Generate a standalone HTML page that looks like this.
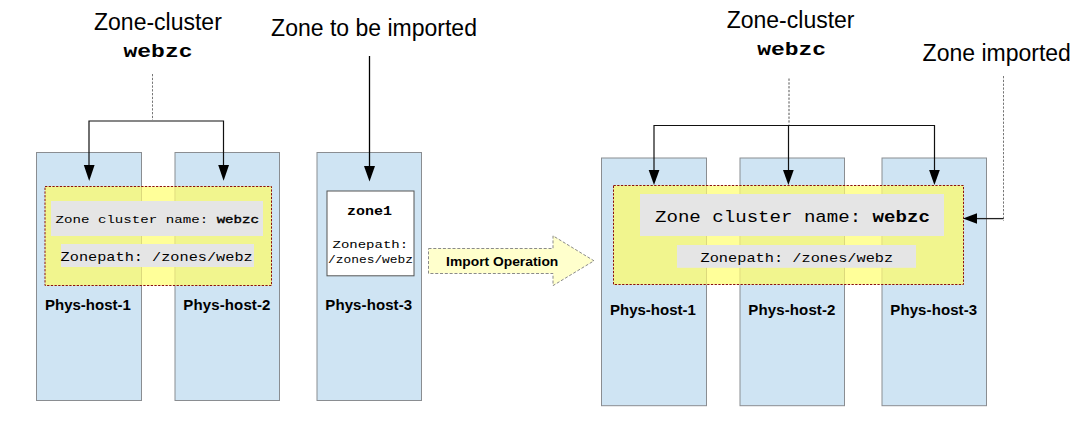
<!DOCTYPE html>
<html><head><meta charset="utf-8">
<style>
html,body{margin:0;padding:0;background:#fff;}
body{width:1078px;height:421px;overflow:hidden;position:relative;}
svg{position:absolute;left:0;top:0;}
.s{font-family:"Liberation Sans",sans-serif;}
.m{font-family:"Liberation Mono",monospace;}
</style></head>
<body>
<svg width="1078" height="421" viewBox="0 0 1078 421">
  <!-- ===== LEFT GROUP ===== -->
  <g fill="#cfe4f3" stroke="#8a8d91" stroke-width="1">
    <rect x="36.5" y="152.5" width="105" height="248"/>
    <rect x="175" y="152.5" width="104.5" height="248"/>
    <rect x="317" y="152.5" width="104.5" height="248"/>
  </g>
  <!-- yellow cluster box -->
  <rect x="45" y="186.5" width="226.5" height="99" fill="#ffff99"/>
  <rect x="45" y="186.5" width="96" height="99" fill="#f1f58e"/>
  <rect x="175.5" y="186.5" width="96" height="99" fill="#f1f58e"/>
  <line x1="141.5" y1="187" x2="141.5" y2="285" stroke="#dcd97c" stroke-width="1"/>
  <line x1="175" y1="187" x2="175" y2="285" stroke="#dcd97c" stroke-width="1"/>
  <rect x="45" y="186.5" width="226.5" height="99" fill="none" stroke="#8b1010" stroke-width="1" stroke-dasharray="2.3 1.4"/>
  <!-- labels -->
  <rect x="51" y="201" width="212" height="35" fill="#e5e5e5"/>
  <rect x="61" y="244" width="193" height="23" fill="#e5e5e5"/>
  <!-- zone1 box -->
  <rect x="327" y="191" width="87" height="84.8" fill="#fff" stroke="#555" stroke-width="1"/>

  <!-- bracket lines -->
  <path d="M89 166 V121 H223.5 V166" fill="none" stroke="#111" stroke-width="1.2"/>
  <line x1="152.5" y1="74" x2="152.5" y2="120" stroke="#777" stroke-width="1" stroke-dasharray="2.3 1.5"/>
  <line x1="369.5" y1="56" x2="369.5" y2="167" stroke="#000" stroke-width="1.3"/>
  <g fill="#000">
    <polygon points="83.8,165 94.6,165 89.2,181"/>
    <polygon points="218.2,165 229,165 223.6,180.8"/>
    <polygon points="364,166 375,166 369.5,181.6"/>
  </g>

  <!-- import arrow -->
  <polygon points="428.5,248.5 553,248.5 553,235.8 594,260.8 553,285.6 553,273.5 428.5,273.5" fill="#ffffcc" stroke="#8a8a8a" stroke-width="1" stroke-dasharray="3 1.8"/>

  <!-- ===== RIGHT GROUP ===== -->
  <g fill="#cfe4f3" stroke="#8a8d91" stroke-width="1">
    <rect x="601.5" y="158" width="105" height="247.7"/>
    <rect x="740" y="158" width="104.5" height="247.7"/>
    <rect x="882" y="158" width="104.5" height="247.7"/>
  </g>
  <rect x="613.5" y="185.5" width="350" height="99" fill="#ffff99"/>
  <rect x="613.5" y="185.5" width="93" height="99" fill="#f1f58e"/>
  <rect x="740.5" y="185.5" width="104" height="99" fill="#f1f58e"/>
  <rect x="882.5" y="185.5" width="81" height="99" fill="#f1f58e"/>
  <g stroke="#dcd97c" stroke-width="1">
    <line x1="706.5" y1="186" x2="706.5" y2="284"/>
    <line x1="740" y1="186" x2="740" y2="284"/>
    <line x1="844.5" y1="186" x2="844.5" y2="284"/>
    <line x1="882" y1="186" x2="882" y2="284"/>
  </g>
  <rect x="613.5" y="185.5" width="350" height="99" fill="none" stroke="#8b1010" stroke-width="1" stroke-dasharray="2.3 1.4"/>
  <rect x="640" y="194" width="304" height="42" fill="#e5e5e5"/>
  <rect x="677" y="245" width="239" height="22.8" fill="#e5e5e5"/>

  <path d="M654 171 V125.5 H934.5 V171" fill="none" stroke="#111" stroke-width="1.2"/>
  <line x1="788.5" y1="125.5" x2="788.5" y2="171" stroke="#111" stroke-width="1.2"/>
  <line x1="789" y1="78.5" x2="789" y2="124.5" stroke="#555" stroke-width="1" stroke-dasharray="2.3 1.5"/>
  <line x1="1003.5" y1="76" x2="1003.5" y2="221" stroke="#777" stroke-width="1" stroke-dasharray="2.3 1.5"/>
  <line x1="1003.5" y1="218.6" x2="976" y2="218.6" stroke="#222" stroke-width="1.3"/>
  <g fill="#000">
    <polygon points="648.7,170 659.4,170 654,185"/>
    <polygon points="783,170 793.7,170 788.4,185"/>
    <polygon points="929.1,170 939.8,170 934.4,185"/>
    <polygon points="977,213.3 977,223.7 963,218.5"/>
  </g>

  <!-- ===== TEXT ===== -->
  <g class="s" font-size="23" fill="#000">
    <text x="94" y="30">Zone-cluster</text>
    <text x="271.1" y="35.5">Zone to be imported</text>
    <text x="726.7" y="28.4">Zone-cluster</text>
    <text x="922.6" y="60.7">Zone imported</text>
  </g>
  <g class="m" font-size="23" font-weight="bold" fill="#000">
    <text transform="translate(123.5,57) scale(1,0.8)">webzc</text>
    <text transform="translate(757.2,55) scale(1,0.8)">webzc</text>
  </g>
  <g class="s" font-size="15" font-weight="bold" fill="#000">
    <text x="45" y="309.7">Phys-host-1</text>
    <text x="183.3" y="309.7" letter-spacing="0.13">Phys-host-2</text>
    <text x="325.3" y="309.7" letter-spacing="0.1">Phys-host-3</text>
    <text x="610" y="314.7">Phys-host-1</text>
    <text x="748.3" y="314.7" letter-spacing="0.13">Phys-host-2</text>
    <text x="890.3" y="314.7" letter-spacing="0.1">Phys-host-3</text>
  </g>
  <g class="m" fill="#000">
    <text transform="translate(55.5,222.6) scale(1,0.82)" font-size="14.15">Zone cluster name: <tspan stroke="#000" stroke-width="0.45">webzc</tspan></text>
    <text transform="translate(60.6,261) scale(1,0.82)" font-size="15.25">Zonepath: /zones/webz</text>
    <text transform="translate(347,214.7) scale(1,0.82)" font-size="15" font-weight="bold">zone1</text>
    <text transform="translate(332.5,247.9) scale(1,0.82)" font-size="14">Zonepath:</text>
    <text transform="translate(328,262.8) scale(1,0.82)" font-size="12.9">/zones/webz</text>
    <text transform="translate(655,222.2) scale(1,0.82)" font-size="19.1">Zone cluster name: <tspan font-weight="bold">webzc</tspan></text>
    <text transform="translate(700.5,261.6) scale(1,0.82)" font-size="15.3">Zonepath: /zones/webz</text>
  </g>
  <text class="s" transform="translate(446.1,265.6) scale(1,0.9)" font-size="13.85" font-weight="bold" fill="#000">Import Operation</text>
</svg>
</body></html>
